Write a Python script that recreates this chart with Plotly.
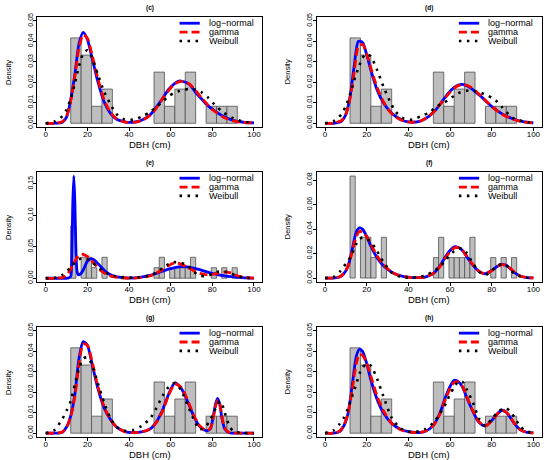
import numpy as np
import plotly.graph_objects as go

# ---------------- Histogram data ----------------
# 5-cm DBH classes (panels c, d, g, h)
hist5_left = [12, 17, 22, 27, 52, 57, 62, 67, 77, 82, 87]
hist5_density = [0.0417, 0.0333, 0.0083, 0.0167, 0.025, 0.0083, 0.0167, 0.025, 0.0083, 0.0083, 0.0083]
hist5_width = 5.0
# 2.5-cm DBH classes (panels e, f)
hist25_left = [12, 17, 19.5, 22, 27, 52, 54.5, 59.5, 62, 64.5, 67, 69.5, 79.5, 84.5, 89.5]
hist25_density = [0.0833, 0.0333, 0.0333, 0.0167, 0.0333, 0.0167, 0.0333, 0.0167, 0.0167,
                  0.0167, 0.0167, 0.0333, 0.0167, 0.0167, 0.0167]
hist25_width = 2.5

# ---------------- Panel (c) ----------------
dbh_c = [0, 4, 8, 10, 12, 14, 16, 18, 20, 22, 25, 28, 31, 34, 38, 42, 46, 50, 53, 56, 59, 62,
         64, 66, 69, 72, 75, 78, 81, 85, 90, 95, 100]
lognormal_c = [0, 0, 0.0005, 0.003, 0.0115, 0.024, 0.039, 0.0444, 0.041, 0.033, 0.0205, 0.0105,
               0.005, 0.002, 0.0007, 0.0005, 0.0015, 0.004, 0.0078, 0.012, 0.0165, 0.0195,
               0.0206, 0.0204, 0.019, 0.015, 0.0117, 0.0085, 0.0062, 0.0035, 0.0014, 0.0005, 0.0002]
gamma_c = [0, 0, 0.0008, 0.0035, 0.011, 0.023, 0.037, 0.0432, 0.0415, 0.0345, 0.022, 0.0115,
           0.0055, 0.0022, 0.0006, 0.0004, 0.0013, 0.0038, 0.0072, 0.0118, 0.016, 0.0192,
           0.0202, 0.0204, 0.0192, 0.016, 0.0122, 0.0088, 0.0059, 0.0031, 0.0012, 0.0004, 0.0001]
weibull_c = [0, 0.0008, 0.0035, 0.0067, 0.012, 0.0195, 0.028, 0.034, 0.0356, 0.0325, 0.024, 0.0155,
             0.0095, 0.0045, 0.0018, 0.0018, 0.0032, 0.0055, 0.0078, 0.0105, 0.0132, 0.015,
             0.0158, 0.0164, 0.0167, 0.0165, 0.015, 0.0125, 0.0092, 0.0055, 0.0025, 0.0008, 0.0002]

# ---------------- Panel (d) ----------------
dbh_d = dbh_c
lognormal_d = [0, 0, 0.0011, 0.0043, 0.013, 0.028, 0.040, 0.0395, 0.0335, 0.026, 0.0163, 0.010,
               0.006, 0.0033, 0.0011, 0.0005, 0.0011, 0.0035, 0.0064, 0.0104, 0.0145, 0.0175,
               0.0187, 0.019, 0.0178, 0.0155, 0.013, 0.010, 0.0074, 0.0046, 0.0022, 0.0008, 0.0002]
gamma_d = [0, 0, 0.0014, 0.0045, 0.012, 0.025, 0.0375, 0.0385, 0.034, 0.027, 0.0175, 0.0105,
           0.0058, 0.003, 0.001, 0.0005, 0.0012, 0.0036, 0.0065, 0.0102, 0.014, 0.0172,
           0.0184, 0.0188, 0.0182, 0.016, 0.0132, 0.0102, 0.0074, 0.0044, 0.002, 0.0007, 0.0002]
weibull_d = [0, 0.001, 0.0045, 0.0085, 0.014, 0.021, 0.027, 0.032, 0.034, 0.0325, 0.026, 0.018,
             0.011, 0.0055, 0.0022, 0.0018, 0.0035, 0.0052, 0.0078, 0.0095, 0.0112, 0.0135,
             0.0147, 0.0155, 0.016, 0.0156, 0.0148, 0.0135, 0.012, 0.0078, 0.0027, 0.0009, 0.0002]

# ---------------- Panel (e) ----------------
dbh_e = [0, 5, 8, 10, 11, 12, 12.5, 13, 13.5, 14, 14.5, 15, 15.5, 16, 17, 18, 20, 22, 24, 26, 28,
         30, 33, 36, 40, 45, 50, 53, 56, 59, 62, 65, 68, 71, 74, 77, 80, 83, 86, 89, 92, 96, 100]
lognormal_e = [0, 0, 0, 0, 0.0003, 0.003, 0.03, 0.12, 0.1625, 0.12, 0.045, 0.012, 0.006, 0.0055,
               0.008, 0.013, 0.027, 0.031, 0.027, 0.02, 0.013, 0.0075, 0.003, 0.0012, 0.0003,
               0.0012, 0.0045, 0.0075, 0.011, 0.0145, 0.017, 0.0185, 0.018, 0.016, 0.0135, 0.0105,
               0.0078, 0.0055, 0.0038, 0.0025, 0.0015, 0.0007, 0.0003]
gamma_e = [0, 0, 0.001, 0.005, 0.009, 0.015, 0.018, 0.021, 0.024, 0.027, 0.03, 0.0325, 0.0345,
           0.036, 0.0383, 0.038, 0.0345, 0.028, 0.0205, 0.0135, 0.0085, 0.005, 0.002, 0.0008,
           0.0002, 0.0008, 0.0035, 0.008, 0.0135, 0.02, 0.0245, 0.0225, 0.0175, 0.012, 0.0078,
           0.0058, 0.006, 0.0082, 0.0098, 0.0085, 0.004, 0.001, 0.0002]
weibull_e = [0, 0.001, 0.0055, 0.011, 0.014, 0.0175, 0.019, 0.021, 0.023, 0.025, 0.0265, 0.028,
             0.029, 0.030, 0.0312, 0.0315, 0.030, 0.026, 0.0205, 0.015, 0.0105, 0.007, 0.0035,
             0.0018, 0.0009, 0.0015, 0.0045, 0.009, 0.016, 0.0225, 0.0255, 0.0245, 0.0205, 0.0105,
             0.004, 0.0035, 0.0065, 0.0105, 0.0105, 0.008, 0.003, 0.0008, 0.0002]

# ---------------- Panel (f) ----------------
dbh_f = [0, 4, 7, 9, 11, 13, 15, 16.5, 18, 20, 22, 25, 28, 32, 36, 40, 45, 48, 52, 55, 58, 60, 62,
         64, 66, 68, 71, 74, 77, 80, 83, 85, 87, 89, 91, 94, 97, 100]
lognormal_f = [0, 0, 0.0008, 0.0035, 0.0095, 0.023, 0.0375, 0.041, 0.040, 0.034, 0.026, 0.0165,
               0.010, 0.0048, 0.002, 0.0007, 0.0003, 0.0008, 0.0038, 0.0095, 0.018, 0.0225, 0.0255,
               0.025, 0.0225, 0.0175, 0.0105, 0.0052, 0.0035, 0.0062, 0.0098, 0.0112, 0.0102,
               0.0075, 0.0045, 0.0015, 0.0004, 0.0001]
gamma_f = [0, 0, 0.001, 0.0038, 0.0095, 0.021, 0.034, 0.038, 0.0375, 0.0338, 0.0275, 0.018, 0.011,
           0.0048, 0.0018, 0.0006, 0.0003, 0.0009, 0.0038, 0.009, 0.017, 0.0215, 0.0245, 0.0248,
           0.0225, 0.018, 0.011, 0.0055, 0.0035, 0.006, 0.0097, 0.011, 0.0103, 0.0078, 0.0047,
           0.0015, 0.0004, 0.0001]
weibull_f = [0, 0.0008, 0.005, 0.0095, 0.0135, 0.02, 0.028, 0.032, 0.033, 0.032, 0.0295, 0.022,
             0.013, 0.0045, 0.001, 0.0003, 0.0008, 0.002, 0.0055, 0.009, 0.015, 0.019, 0.022,
             0.024, 0.024, 0.0205, 0.012, 0.0052, 0.0025, 0.006, 0.0105, 0.0112, 0.0105, 0.0065,
             0.0035, 0.0012, 0.0003, 0.0001]

# ---------------- Panel (g) ----------------
dbh_g = [0, 4, 8, 10, 12, 14, 16, 18, 20, 22, 25, 28, 31, 34, 38, 42, 46, 50, 53, 56, 59, 62, 65,
         68, 71, 74, 77, 79, 80.5, 81.5, 82.5, 83.5, 84.5, 86, 88, 90, 95, 100]
lognormal_g = [0, 0, 0.0005, 0.003, 0.0085, 0.019, 0.0367, 0.0447, 0.043, 0.035, 0.022, 0.0125,
               0.0068, 0.003, 0.0008, 0.0003, 0.0006, 0.002, 0.0053, 0.011, 0.019, 0.0246, 0.022,
               0.0158, 0.0085, 0.0032, 0.0012, 0.002, 0.0085, 0.014, 0.017, 0.0145, 0.008, 0.002,
               0.0002, 0, 0, 0]
gamma_g = [0, 0, 0.0006, 0.0028, 0.008, 0.018, 0.034, 0.0435, 0.043, 0.036, 0.023, 0.013, 0.007,
           0.003, 0.0008, 0.0003, 0.0006, 0.002, 0.005, 0.0105, 0.0185, 0.024, 0.0225, 0.0165,
           0.009, 0.0035, 0.0013, 0.0022, 0.008, 0.013, 0.016, 0.0145, 0.009, 0.0025, 0.0004,
           0.0001, 0, 0]
weibull_g = [0, 0.0013, 0.007, 0.011, 0.0157, 0.0238, 0.0318, 0.0365, 0.037, 0.034, 0.0245, 0.015,
             0.0075, 0.003, 0.0012, 0.0015, 0.0035, 0.007, 0.012, 0.018, 0.0225, 0.0245, 0.021,
             0.014, 0.007, 0.0018, 0.0035, 0.0065, 0.0095, 0.012, 0.014, 0.0155, 0.0145, 0.010,
             0.004, 0.001, 0.0001, 0]

# ---------------- Panel (h) ----------------
dbh_h = dbh_f
lognormal_h = [0, 0, 0.0008, 0.0035, 0.0095, 0.023, 0.0375, 0.041, 0.040, 0.034, 0.026, 0.0165,
               0.010, 0.0048, 0.002, 0.0007, 0.0003, 0.0008, 0.0038, 0.0095, 0.018, 0.0228, 0.0258,
               0.0252, 0.0225, 0.0175, 0.0105, 0.0052, 0.0035, 0.0062, 0.0098, 0.0112, 0.0102,
               0.0075, 0.0045, 0.0015, 0.0004, 0.0001]
gamma_h = [0, 0, 0.001, 0.0038, 0.0095, 0.021, 0.034, 0.0385, 0.038, 0.0342, 0.0278, 0.018, 0.011,
           0.0048, 0.0018, 0.0006, 0.0003, 0.0009, 0.0038, 0.009, 0.017, 0.0218, 0.0248, 0.025,
           0.0228, 0.018, 0.011, 0.0055, 0.0035, 0.006, 0.0097, 0.011, 0.0103, 0.0078, 0.0047,
           0.0015, 0.0004, 0.0001]
weibull_h = [0, 0.0013, 0.0045, 0.0075, 0.012, 0.018, 0.024, 0.029, 0.032, 0.034, 0.033, 0.0265,
             0.018, 0.0075, 0.0025, 0.0008, 0.0009, 0.002, 0.005, 0.0095, 0.0145, 0.019, 0.0225,
             0.0254, 0.025, 0.0214, 0.015, 0.007, 0.0035, 0.007, 0.0103, 0.0118, 0.0122, 0.0105,
             0.0075, 0.003, 0.0008, 0.0002]

# ---------------- Labels ----------------
panel_labels = ["(c)", "(d)", "(e)", "(f)", "(g)", "(h)"]
series_names = ["log\u2212normal", "gamma", "Weibull"]
x_ticks = [0, 20, 40, 60, 80, 100]

# ---------------- Layout geometry (pixels) ----------------
W, H = 550, 460
col_px = [(37.4, 262.3), (316.7, 541.7)]
row_px = [(13, 125), (170, 282), (327, 439)]

panels = [
    dict(label=panel_labels[0], x=dbh_c, ln=lognormal_c, ga=gamma_c, wb=weibull_c,
         hl=hist5_left, hd=hist5_density, hw=hist5_width, yr=[-0.002, 0.052], dt=0.01, r=0, c=0),
    dict(label=panel_labels[1], x=dbh_d, ln=lognormal_d, ga=gamma_d, wb=weibull_d,
         hl=hist5_left, hd=hist5_density, hw=hist5_width, yr=[-0.002, 0.052], dt=0.01, r=0, c=1),
    dict(label=panel_labels[2], x=dbh_e, ln=lognormal_e, ga=gamma_e, wb=weibull_e,
         hl=hist25_left, hd=hist25_density, hw=hist25_width, yr=[-0.0065, 0.169], dt=0.05, r=1, c=0),
    dict(label=panel_labels[3], x=dbh_f, ln=lognormal_f, ga=gamma_f, wb=weibull_f,
         hl=hist25_left, hd=hist25_density, hw=hist25_width, yr=[-0.0035, 0.0868], dt=0.02, r=1, c=1),
    dict(label=panel_labels[4], x=dbh_g, ln=lognormal_g, ga=gamma_g, wb=weibull_g,
         hl=hist5_left, hd=hist5_density, hw=hist5_width, yr=[-0.002, 0.052], dt=0.01, r=2, c=0),
    dict(label=panel_labels[5], x=dbh_h, ln=lognormal_h, ga=gamma_h, wb=weibull_h,
         hl=hist5_left, hd=hist5_density, hw=hist5_width, yr=[-0.002, 0.052], dt=0.01, r=2, c=1),
]

FONT = "Liberation Sans, Arial, Helvetica, sans-serif"
BLUE, RED, BLACK = "#0000FF", "#FF0000", "#000000"
LN_STYLE = dict(color=BLUE, width=2.8)
GA_STYLE = dict(color=RED, width=2.8, dash="8px,4px")
WB_STYLE = dict(color=BLACK, width=2.6, dash="2.5px,5.5px")

fig = go.Figure()
layout = dict(
    width=W, height=H, margin=dict(l=0, r=0, t=0, b=0),
    paper_bgcolor="white", plot_bgcolor="white", showlegend=False,
    font=dict(family=FONT, color="black"), barmode="overlay",
)
annotations = []
shapes = []

for i, p in enumerate(panels, start=1):
    xa = "x" if i == 1 else f"x{i}"
    ya = "y" if i == 1 else f"y{i}"
    xdom = [col_px[p["c"]][0] / W, col_px[p["c"]][1] / W]
    ydom = [1 - row_px[p["r"]][1] / H, 1 - row_px[p["r"]][0] / H]

    left = np.array(p["hl"], dtype=float)
    fig.add_trace(go.Bar(
        x=left + p["hw"] / 2, y=p["hd"], width=p["hw"],
        marker=dict(color="#BEBEBE", line=dict(color="#505050", width=0.8)),
        xaxis=xa, yaxis=ya, hoverinfo="skip"))
    fig.add_trace(go.Scatter(x=p["x"], y=p["ln"], mode="lines", xaxis=xa, yaxis=ya,
                             line=dict(shape="spline", smoothing=0.7, **LN_STYLE)))
    fig.add_trace(go.Scatter(x=p["x"], y=p["ga"], mode="lines", xaxis=xa, yaxis=ya,
                             line=dict(shape="spline", smoothing=0.7, **GA_STYLE)))
    fig.add_trace(go.Scatter(x=p["x"], y=p["wb"], mode="lines", xaxis=xa, yaxis=ya,
                             line=dict(shape="spline", smoothing=0.7, **WB_STYLE)))

    axis_common = dict(showline=True, mirror=True, linecolor="black", linewidth=1,
                       ticks="outside", ticklen=3, tickwidth=1, tickcolor="black",
                       showgrid=False, zeroline=False)
    layout["xaxis" if i == 1 else f"xaxis{i}"] = dict(
        domain=xdom, range=[-4, 104], tickvals=x_ticks, anchor=ya, ticklabelstandoff=-4,
        tickfont=dict(size=8, family=FONT), **axis_common)
    layout["yaxis" if i == 1 else f"yaxis{i}"] = dict(
        domain=ydom, range=p["yr"], dtick=p["dt"], tick0=0, tickformat=".2f",
        tickangle=-90, anchor=xa, ticklabelstandoff=-2,
        tickfont=dict(size=7, family=FONT), **axis_common)

    cx = (xdom[0] + xdom[1]) / 2
    top_px, bot_px = row_px[p["r"]]
    # panel title
    annotations.append(dict(text=f"<b>{p['label']}</b>", x=cx, y=1 - (top_px - 9) / H,
                            xref="paper", yref="paper", showarrow=False,
                            font=dict(size=6.5, family=FONT), xanchor="center", yanchor="middle"))
    # x axis title
    annotations.append(dict(text="DBH (cm)", x=cx, y=1 - (bot_px + 17) / H,
                            xref="paper", yref="paper", showarrow=False,
                            font=dict(size=9.5, family=FONT), xanchor="center", yanchor="middle"))
    # y axis title
    annotations.append(dict(text="Density", x=(col_px[p["c"]][0] - 29.5) / W,
                            y=1 - (top_px + bot_px) / 2 / H,
                            xref="paper", yref="paper", showarrow=False, textangle=-90,
                            font=dict(size=7.5, family=FONT), xanchor="center", yanchor="middle"))
    # legend (R style, no box)
    xd, yd = f"{xa} domain", f"{ya} domain"
    rows_y = [0.942, 0.862, 0.782]
    for name, style, yy in zip(series_names, [LN_STYLE, GA_STYLE, WB_STYLE], rows_y):
        shapes.append(dict(type="line", xref=xd, yref=yd, x0=0.632, x1=0.722, y0=yy, y1=yy,
                           line=style))
        annotations.append(dict(text=name, x=0.752, y=yy, xref=xd, yref=yd, showarrow=False,
                                xanchor="left", yanchor="middle",
                                font=dict(size=9, family=FONT)))

layout["annotations"] = annotations
layout["shapes"] = shapes
fig.update_layout(**layout)
fig.write_html("out.html", config={"displayModeBar": False},
               post_script="document.body.style.margin='0px';document.body.style.padding='0px';")
